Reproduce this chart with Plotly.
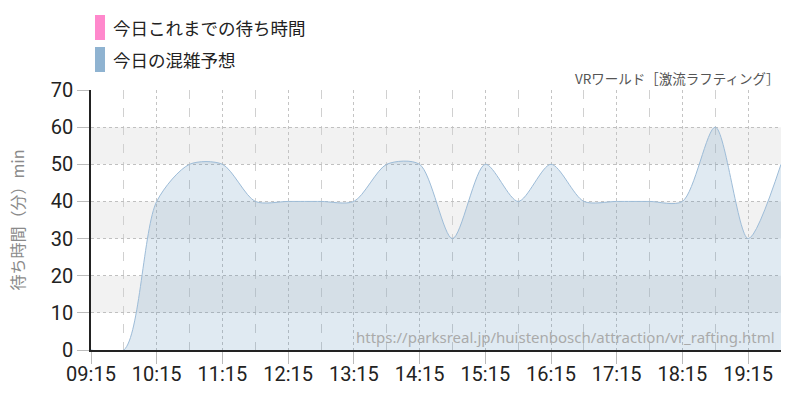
import plotly.graph_objects as go

# ---- data ----
times = ["09:15", "09:45", "10:15", "10:45", "11:15", "11:45", "12:15", "12:45",
         "13:15", "13:45", "14:15", "14:45", "15:15", "15:45", "16:15", "16:45",
         "17:15", "17:45", "18:15", "18:45", "19:15", "19:45"]
forecast = [0, 0, 40, 50, 50, 40, 40, 40,
            40, 50, 50, 30, 50, 40, 50, 40,
            40, 40, 40, 60, 30, 50]
actual_times = []
actual_values = []
tick_labels = ["09:15", "10:15", "11:15", "12:15", "13:15", "14:15",
               "15:15", "16:15", "17:15", "18:15", "19:15"]
legend_names = ["今日これまでの待ち時間", "今日の混雑予想"]
legend_colors = ["#ff88cc", "#8fb3d1"]
title_text = "VRワールド［激流ラフティング］"
url_text = "https://parksreal.jp/huistenbosch/attraction/vr_rafting.html"
y_title = "待ち時間（分）min"

DAY = "2024-01-01 "
x = [DAY + t for t in times]

NUM_FONT = "Roboto, sans-serif"
CJK_FONT = "Noto Sans CJK JP, Noto Sans, sans-serif"

fig = go.Figure()
fig.add_trace(go.Scatter(
    x=[DAY + t for t in actual_times], y=actual_values, mode="lines",
    line=dict(color=legend_colors[0], width=1), showlegend=False,
))
fig.add_trace(go.Scatter(
    x=x, y=forecast, mode="lines",
    line=dict(color="#9dbcd8", width=1, shape="spline", smoothing=0.8),
    fill="tozeroy", fillcolor="rgba(70,130,180,0.17)",
    showlegend=False, hoverinfo="x+y",
))

shapes = []
for lo in (10, 30, 50):
    shapes.append(dict(type="rect", xref="paper", yref="y", x0=0, x1=1, y0=lo, y1=lo + 10,
                       fillcolor="#f2f2f2", line=dict(width=0), layer="below"))

# legend drawn manually
annotations = []
for i, (name, col) in enumerate(zip(legend_names, legend_colors)):
    top = 15 + i * 32
    shapes.append(dict(type="rect", xref="paper", yref="paper",
                       x0=(95 - 91) / 690, x1=(105 - 91) / 690,
                       y0=(350 - (top + 25)) / 260, y1=(350 - top) / 260,
                       fillcolor=col, line=dict(width=0)))
    annotations.append(dict(text=name, xref="paper", yref="paper",
                            x=(111 - 91) / 690, y=(350 - (top + 12.5)) / 260,
                            xanchor="left", yanchor="middle", showarrow=False,
                            font=dict(family=CJK_FONT, size=17.5, color="#222")))

annotations.append(dict(text=title_text, xref="paper", yref="paper",
                        x=(782 - 91) / 690, y=(350 - 78) / 260,
                        xanchor="right", yanchor="middle", showarrow=False,
                        font=dict(family=CJK_FONT, size=13.5, color="#555")))
annotations.append(dict(text=url_text, xref="paper", yref="paper",
                        x=(777 - 91) / 690, y=(350 - 337) / 260,
                        xanchor="right", yanchor="middle", showarrow=False,
                        font=dict(family="Noto Sans, sans-serif", size=15, color="#aaaaaa")))

fig.update_layout(
    width=800, height=400,
    margin=dict(l=91, r=19, t=90, b=50),
    paper_bgcolor="white", plot_bgcolor="white",
    shapes=shapes, annotations=annotations,
    showlegend=False,
    xaxis=dict(
        type="date",
        range=[DAY + "09:15", DAY + "19:45"],
        tickmode="array",
        tickvals=[DAY + t for t in tick_labels],
        ticktext=tick_labels,
        ticks="outside", ticklen=12, tickcolor="#bbbbbb", tickwidth=1,
        ticklabelstandoff=-7,
        showgrid=True, gridcolor="#c4c4c4", griddash="dot", gridwidth=1,
        minor=dict(dtick=3600000, tick0=DAY + "09:45", showgrid=True,
                   gridcolor="#d0d0d0", griddash="dash", gridwidth=1, ticks=""),
        showline=True, linecolor="#222", linewidth=1.5,
        tickfont=dict(family=NUM_FONT, size=20, color="#222"),
        zeroline=False, fixedrange=True, automargin=False,
    ),
    yaxis=dict(
        range=[0, 70], dtick=10, tick0=0,
        ticks="outside", ticklen=12, tickcolor="#bbbbbb", tickwidth=1,
        showgrid=True, gridcolor="#c0c0c0", griddash="dot", gridwidth=1,
        showline=True, linecolor="#222", linewidth=1.5,
        zeroline=False,
        tickfont=dict(family=NUM_FONT, size=20, color="#222"),
        title=dict(text=y_title, standoff=22,
                   font=dict(family=CJK_FONT, size=16, color="#8a8a8a")),
        fixedrange=True, automargin=False,
    ),
)

fig.write_html("out.html", config={"displayModeBar": False},
               post_script="document.body.style.margin='0';")
